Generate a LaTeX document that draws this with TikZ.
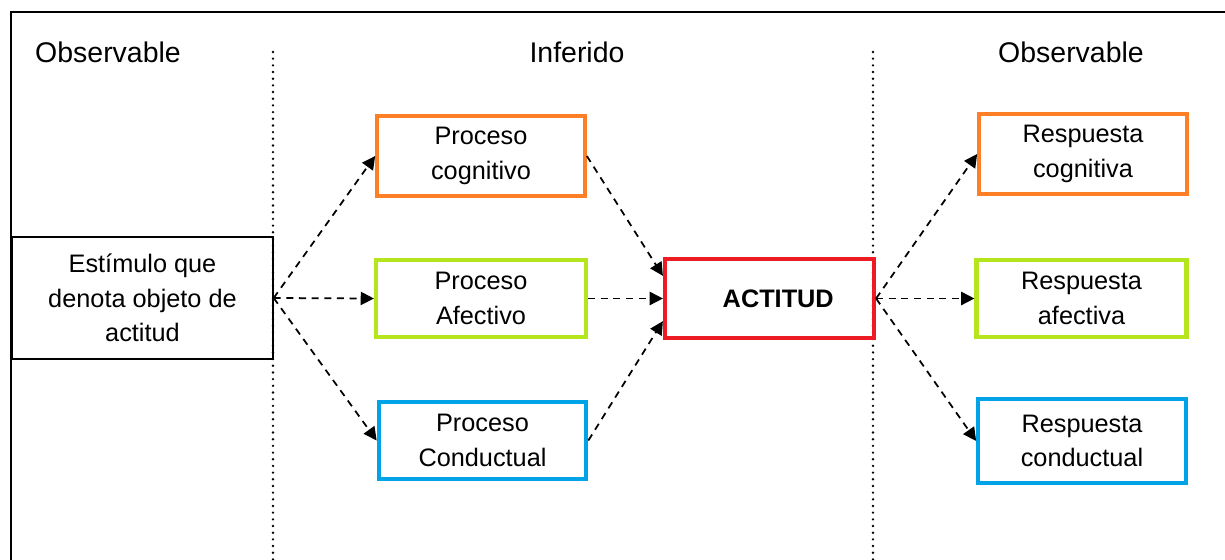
\documentclass[tikz,border=0pt]{standalone}
\usepackage{fontspec}
\setmainfont{Liberation Sans}
\usetikzlibrary{arrows.meta}

\definecolor{naranja}{RGB}{255, 127, 39}
\definecolor{lima}{RGB}{181, 230, 29}
\definecolor{celeste}{RGB}{0, 162, 232}
\definecolor{rojo}{RGB}{237, 28, 36}

\begin{document}
\begin{tikzpicture}[x = 0.02cm, y = -0.02cm,
	caja/.style = {draw, line width = 2.4pt, minimum width = 4.15cm, minimum height = 1.6cm, inner sep = 0pt, align = center, font = \fontsize{14.4}{19.8}\selectfont},
	flecha/.style = {line width = 1pt, dash pattern = on 4pt off 3.2pt, -{Triangle[length=7.5pt, width=7.5pt]}},
	titulo/.style = {anchor = base, font = \fontsize{16.2}{19}\selectfont},
	puntos/.style = {line width = 1.5pt, line cap = round, dash pattern = on 0pt off 3.8pt}]
	\useasboundingbox (0, 0) rectangle (1225, 560);
	
	\draw[line width = 1.2pt] (1225, 12) -- (11, 12) -- (11, 560);
	\draw[puntos] (273, 52) -- (273, 560);
	\draw[puntos] (873, 52) -- (873, 560);
	
	\node[titulo] (obs1) at (108, 63) {Observable};
	\node[titulo] (inf) at (577, 63) {Inferido};
	\node[titulo] (obs2) at (1071, 63) {Observable};
	
	\node[caja, line width = 0.8pt, minimum width = 5.22cm, minimum height = 2.44cm] (estimulo) at (142.5, 298) {Estímulo que\\denota objeto de\\actitud};
	
	\node[caja, draw = naranja] (pcog) at (481, 156) {Proceso\\cognitivo};
	\node[caja, draw = lima, minimum width = 4.2cm, minimum height = 1.54cm] (pafe) at (481, 298.5) {Proceso\\Afectivo};
	\node[caja, draw = celeste, minimum height = 1.54cm] (pcon) at (482.5, 440.5) {Proceso\\Conductual};
	
	\node[caja, draw = rojo, minimum width = 4.18cm, minimum height = 1.58cm, font = \fontsize{14.4}{19.8}\selectfont\bfseries] (actitud) at (769.5, 298.5) {\hspace{0.35cm}ACTITUD};
	
	\node[caja, draw = naranja] (rcog) at (1083, 154) {Respuesta\\cognitiva};
	\node[caja, draw = lima, minimum width = 4.2cm, minimum height = 1.54cm] (rafe) at (1081.5, 298.5) {Respuesta\\afectiva};
	\node[caja, draw = celeste, minimum height = 1.68cm] (rcon) at (1082, 441) {Respuesta\\conductual};
	
	\draw[flecha] (estimulo.east) -- (pcog.west);
	\draw[flecha] (estimulo.east) -- (pafe.west);
	\draw[flecha] (estimulo.east) -- (pcon.west);
	
	\draw[flecha] (pcog.east) -- (actitud.168);
	\draw[flecha] (pafe.east) -- (actitud.west);
	\draw[flecha] (pcon.east) -- (actitud.192);
	
	\draw[flecha] (actitud.east) -- (rcog.west);
	\draw[flecha] (actitud.east) -- (rafe.west);
	\draw[flecha] (actitud.east) -- (rcon.west);
\end{tikzpicture}
\end{document}
